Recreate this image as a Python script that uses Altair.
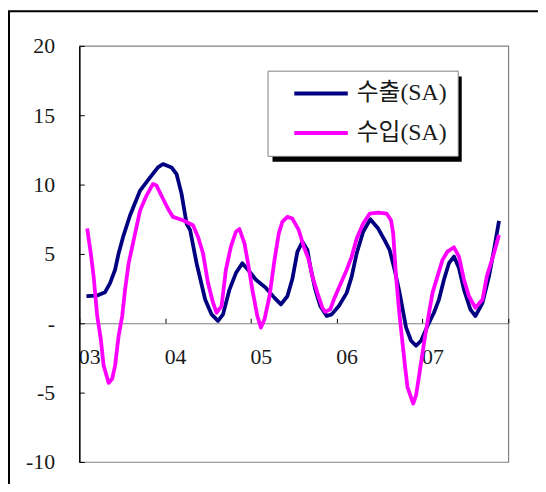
import altair as alt
import pandas as pd

series = ["수출(SA)", "수입(SA)"]
colors = ["#000080", "#FF00FF"]

# months since Jan 2003 (x position) and values (%)
exp_m = [1.0, 2.5, 3.6, 4.3, 5.0, 5.5, 6.2, 7.1, 8.5, 9.9, 11.0, 11.7, 12.9, 13.6, 14.3,
         15.0, 15.5, 16.4, 17.6, 18.5, 19.4, 20.1, 21.0, 21.9, 22.8, 23.6, 24.7, 26.1,
         27.3, 28.2, 29.1, 29.8, 30.5, 31.2, 31.9, 32.3, 33.0, 33.7, 34.6, 35.3, 36.3,
         37.4, 38.1, 38.8, 39.7, 40.7, 41.8, 42.7, 43.4, 44.1, 44.8, 45.7, 46.4, 47.1,
         47.8, 48.7, 49.6, 50.3, 51.0, 51.7, 52.4, 53.1, 53.8, 54.7, 55.4, 56.4, 57.3,
         58.0, 58.7]
exp_v = [1.95, 2.0, 2.24, 2.9, 3.86, 5.05, 6.36, 7.79, 9.57, 10.52, 11.24, 11.48, 11.24,
         10.76, 9.33, 7.19, 6.71, 4.33, 1.71, 0.64, 0.17, 0.64, 2.43, 3.62, 4.33, 3.86,
         3.14, 2.55, 1.83, 1.36, 1.95, 3.2, 5.15, 5.88, 5.29, 4.1, 2.43, 1.24, 0.52, 0.64,
         1.24, 2.19, 3.38, 5.05, 6.6, 7.5, 6.83, 6.0, 5.29, 3.86, 2.19, -0.3, -1.26, -1.62,
         -1.26, -0.19, 0.76, 1.71, 3.14, 4.33, 4.81, 3.98, 2.43, 1.0, 0.52, 1.48, 3.38,
         5.29, 7.38]

imp_m = [1.1, 1.6, 2.0, 2.5, 3.0, 3.4, 4.1, 4.6, 5.0, 5.5, 6.0, 6.4, 6.9, 7.6, 8.5, 9.4,
         10.3, 10.8, 11.7, 12.4, 13.1, 14.5, 15.9, 16.6, 17.3, 18.0, 18.7, 19.2, 19.9,
         20.5, 21.2, 21.9, 22.4, 23.1, 23.6, 24.2, 24.9, 25.4, 25.9, 26.6, 27.3, 27.9,
         28.4, 29.1, 29.8, 30.7, 31.4, 32.1, 32.6, 33.3, 34.0, 34.4, 35.1, 35.6, 36.5,
         37.4, 38.1, 38.8, 39.7, 40.6, 41.8, 43.0, 43.6, 43.9, 44.3, 44.8, 45.3, 45.6,
         45.9, 46.7, 47.1, 47.6, 48.3, 49.0, 49.4, 50.1, 50.8, 51.5, 52.4, 53.1, 53.8,
         54.5, 55.4, 56.4, 57.0, 58.0, 58.7]
imp_v = [6.83, 5.05, 3.38, 0.52, -1.14, -3.05, -4.3, -4.0, -3.05, -0.9, 0.52, 2.43, 4.33,
         6.0, 8.14, 9.21, 10.05, 9.93, 8.98, 8.26, 7.67, 7.43, 7.07, 6.24, 5.05, 2.9, 1.48,
         0.76, 1.24, 3.86, 5.52, 6.6, 6.79, 5.76, 4.33, 2.43, 0.52, -0.31, 0.29, 1.95,
         4.57, 6.48, 7.31, 7.67, 7.55, 6.71, 5.52, 4.57, 3.38, 2.19, 1.12, 0.83, 1.0, 1.71,
         2.79, 3.86, 4.81, 6.12, 7.19, 7.9, 7.98, 7.9, 7.43, 6.48, 3.38, 0.52, -1.86, -3.3,
         -4.6, -5.79, -5.19, -3.52, -1.14, 1.0, 2.19, 3.38, 4.57, 5.17, 5.48, 4.81, 3.14,
         1.95, 1.12, 1.71, 3.38, 5.05, 6.36]

x_ticks = [0, 12, 24, 36, 48, 60]
x_labels = ["03", "04", "05", "06", "07"]
y_ticks = [-10, -5, 0, 5, 10, 15, 20]

df = pd.concat([
    pd.DataFrame({"m": exp_m, "v": exp_v, "s": series[0]}),
    pd.DataFrame({"m": imp_m, "v": imp_v, "s": series[1]}),
], ignore_index=True)

FONT = "Liberation Serif, 'Noto Sans CJK KR', serif"
TXT = "#1a1a1a"

xs = alt.Scale(domain=[0, 60], nice=False, zero=False)
ys = alt.Scale(domain=[-10, 20], nice=False, zero=False)

label_expr_x = "[" + ",".join("'" + l + "'" for l in x_labels) + "][round(datum.value / 12)]"

color = alt.Color(
    "s:N",
    scale=alt.Scale(domain=series, range=colors),
    legend=alt.Legend(
        title=None, orient="none", legendX=190, legendY=25,
        symbolType="M-2.7,0H2.7", symbolSize=400, symbolStrokeWidth=4,
        symbolFillColor="transparent",
        labelFont=FONT, labelFontSize=24, labelColor=TXT, labelOffset=24,
        labelLimit=300, rowPadding=16, padding=11, symbolOffset=31,
        fillColor="white", strokeColor="#808080",
    ),
)

one = alt.Data(values=[{"k": 1}])

frame = alt.Chart(one).mark_rect(filled=False, stroke="black", strokeWidth=2).encode(
    x=alt.value(-71), x2=alt.value(540), y=alt.value(-35), y2=alt.value(520)
)

shadow = alt.Chart(one).mark_rect(color="black").encode(
    x=alt.value(195), x2=alt.value(386), y=alt.value(31), y2=alt.value(117)
)

lines = alt.Chart(df).mark_line(strokeWidth=3.8, strokeJoin="round").encode(
    x=alt.X("m:Q", scale=xs, axis=alt.Axis(
        orient="bottom", offset=-140, values=x_ticks[:-1], labelExpr=label_expr_x,
        ticks=False, tickSize=0, domain=False, grid=False, labelPadding=24,
        labelOffset=10, labelFont=FONT, labelFontSize=22, labelColor=TXT,
        labelFlush=False, labelOverlap=False, title=None)),
    y=alt.Y("v:Q", scale=ys, axis=alt.Axis(
        orient="left", values=y_ticks,
        labelExpr="datum.value == 0 ? '-' : '' + datum.value",
        ticks=False, tickSize=0, domain=True, domainColor="black", domainWidth=1.5,
        grid=False, labelPadding=25, labelFont=FONT, labelFontSize=22,
        labelColor=TXT, labelFlush=False, labelOverlap=False, title=None)),
    color=color,
    detail="s:N",
)

tick_layer = alt.Chart(df).mark_line(strokeOpacity=0).encode(
    x=alt.X("m:Q", scale=xs, axis=alt.Axis(
        orient="top", offset=-280, values=x_ticks, labels=False, ticks=True,
        tickSize=5, tickColor="black", tickWidth=1, domain=True,
        domainColor="#808080", domainWidth=1.2, grid=False, title=None)),
    y=alt.Y("v:Q", scale=ys, axis=alt.Axis(
        orient="right", offset=-433, values=y_ticks, labels=False, ticks=True,
        tickSize=5, tickColor="black", tickWidth=1, domain=False, grid=False,
        title=None)),
    detail="s:N",
)

chart = alt.layer(frame, shadow, lines, tick_layer).resolve_axis(
    x="independent", y="independent"
).properties(
    width=433, height=420,
    autosize=alt.AutoSizeParams(type="none"),
    padding={"left": 72, "top": 36, "right": 30, "bottom": 20},
).configure_view(stroke="#808080", strokeWidth=1.2)

chart.save("out.html", embed_options={"renderer": "svg", "actions": False})
